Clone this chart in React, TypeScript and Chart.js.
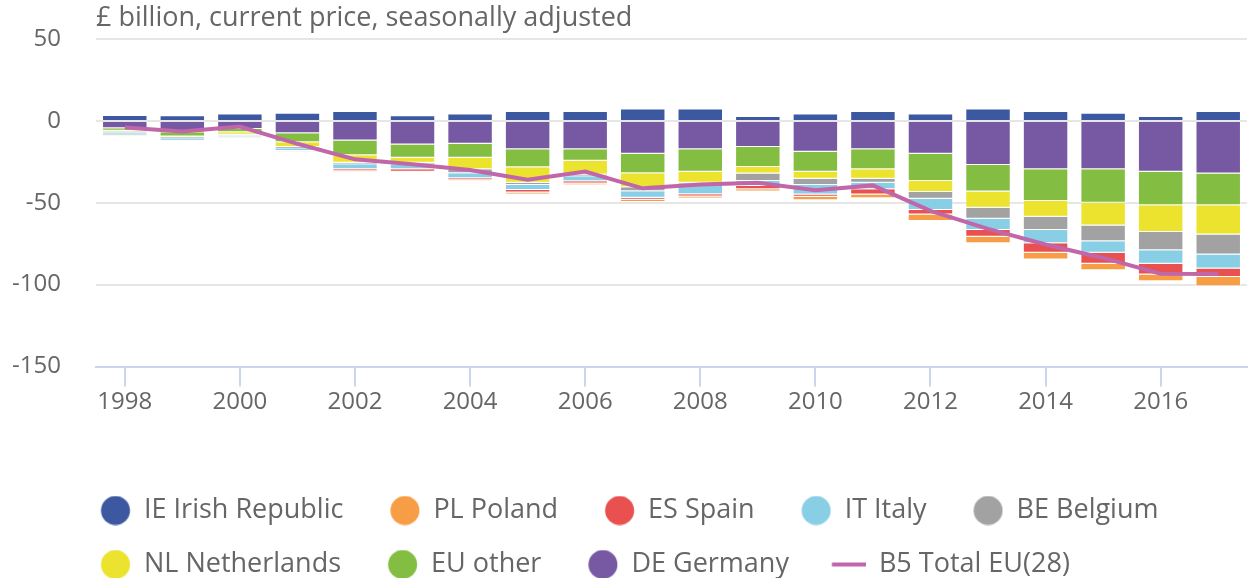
import React, { useEffect, useRef } from 'react';
import { Chart, registerables } from 'chart.js';

Chart.register(...registerables);

const unitLabel = '£ billion, current price, seasonally adjusted';

const years = ['1998', '1999', '2000', '2001', '2002', '2003', '2004', '2005', '2006', '2007',
  '2008', '2009', '2010', '2011', '2012', '2013', '2014', '2015', '2016', '2017'];

const ieIrishRepublic = [3, 3, 4, 4.5, 6, 3.5, 4.5, 6, 6, 7.5, 7.5, 3, 4.5, 6, 4.5, 7.5, 6, 5, 3, 6];
const plPoland = [-0.3, -0.2, -0.2, 0.5, -0.3, -0.3, -0.3, -1.2, -1, -1.4, -1.2, -1.4, -2.2, -2.4, -4.1, -4, -4, -3.9, -4.1, -5.7];
const esSpain = [0.6, 0.5, 0.5, -0.2, -1.3, -1.5, -1.2, -1.6, -1.4, -1.2, -1.4, -2, -1.4, -3.1, -2.6, -4.1, -5.8, -6.7, -6.5, -5.1];
const itItaly = [-1.5, -1.6, -1, -1.7, -3, -3, -3, -3, -3, -4, -6, -3, -5.7, -4, -6.9, -7, -8.1, -7.1, -8.3, -8.6];
const beBelgium = [-1, -0.8, -0.4, -0.7, -1, -1, -2.5, -1.4, -1, -2.4, -1, -4.5, -3.9, -2.5, -4.1, -6.7, -8.2, -9.6, -11.1, -12.2];
const nlNetherlands = [-0.4, -0.3, -1.5, -3, -4.5, -3, -7, -9.5, -8.5, -8.6, -6.8, -4, -4.3, -5.7, -6.8, -9.8, -9.5, -13.9, -16.3, -17.8];
const euOther = [-1.6, -2.5, -2, -5.5, -9, -8, -8.5, -11, -7, -12, -13.7, -12.3, -12.2, -12.3, -16.7, -16.3, -19.4, -20.4, -20.6, -19.4];
const deGermany = [-4.5, -7, -5, -7.5, -12, -14.5, -14, -17.3, -17.3, -20, -17.3, -15.9, -18.8, -17.3, -20, -26.9, -29.6, -29.6, -31, -32.2];
const totalEU28 = [-4, -6.5, -3.5, -14, -23.5, -26.5, -30, -36, -31, -41.2, -38.8, -37.8, -42.4, -39.4, -55, -66, -75.5, -83.7, -93.3, -93.5];

const yTicks = [-150, -100, -50, 0, 50];

const FONT = '"Open Sans", sans-serif';
const TEXT = '#666666';

function makeDot(color: string) {
  const c = document.createElement('canvas');
  c.width = 50;
  c.height = 30;
  const x = c.getContext('2d')!;
  x.fillStyle = color;
  x.beginPath();
  x.arc(34.75, 15, 14.5, 0, Math.PI * 2);
  x.fill();
  return c;
}

function makeDash(color: string) {
  const c = document.createElement('canvas');
  c.width = 50;
  c.height = 30;
  const x = c.getContext('2d')!;
  x.fillStyle = color;
  x.fillRect(16.25, 13, 33.75, 4);
  return c;
}

const titlePlugin = {
  id: 'unitTitle',
  afterLayout(chart: any) {
    if (chart.legend) chart.legend.left = 54;
  },
  afterDraw(chart: any) {
    const { ctx, chartArea } = chart;
    ctx.save();
    ctx.font = `27px ${FONT}`;
    ctx.fillStyle = TEXT;
    ctx.textBaseline = 'middle';
    ctx.textAlign = 'left';
    ctx.fillText(unitLabel, chartArea.left, 18);
    ctx.restore();
  },
};

export default function App() {
  const ref = useRef<HTMLCanvasElement>(null);

  useEffect(() => {
    if (!ref.current) return;
    const bar = (label: string, data: number[], color: string, order: number) => ({
      type: 'bar' as const,
      label,
      data,
      backgroundColor: color,
      borderColor: 'rgba(255,255,255,0.45)',
      borderWidth: 1,
      stack: 'countries',
      order,
      categoryPercentage: 1,
      barPercentage: 0.79,
    });
    const series = [
      bar('IE Irish Republic', ieIrishRepublic, '#3c58a1', 8),
      bar('PL Poland', plPoland, '#f79d45', 7),
      bar('ES Spain', esSpain, '#e8514f', 6),
      bar('IT Italy', itItaly, '#88cfe6', 5),
      bar('BE Belgium', beBelgium, '#a2a2a2', 4),
      bar('NL Netherlands', nlNetherlands, '#ebe32d', 3),
      bar('EU other', euOther, '#83bd42', 2),
      bar('DE Germany', deGermany, '#7759a3', 1),
    ];
    const lineColor = '#c066a9';
    const markers: HTMLCanvasElement[] = series.map((s) => makeDot(s.backgroundColor));
    markers.push(makeDash(lineColor));

    const chart = new Chart(ref.current, {
      type: 'bar',
      data: {
        labels: years,
        datasets: [
          ...series,
          {
            type: 'line' as const,
            label: 'B5 Total EU(28)',
            data: totalEU28,
            borderColor: lineColor,
            backgroundColor: lineColor,
            borderWidth: 4,
            pointRadius: 0,
            tension: 0,
            stack: 'total',
            order: 0,
          },
        ] as any,
      },
      options: {
        responsive: false,
        animation: false,
        devicePixelRatio: 1,
        layout: { padding: { left: 0, top: 39, right: 0, bottom: 0 } },
        plugins: {
          title: { display: false },
          tooltip: { enabled: false },
          legend: {
            position: 'bottom',
            align: 'start',
            labels: {
              usePointStyle: true,
              pointStyleWidth: 49.5,
              padding: 27,
              color: TEXT,
              font: { family: FONT, size: 27 },
              sort: (a: any, b: any) => a.datasetIndex - b.datasetIndex,
              generateLabels: (c: any) => {
                const items = Chart.defaults.plugins.legend.labels.generateLabels(c);
                return items.map((it: any) => ({ ...it, pointStyle: markers[it.datasetIndex] }));
              },
            },
          },
        },
        scales: {
          x: {
            stacked: true,
            afterFit: (s: any) => { s.height = 103.5; },
            grid: {
              offset: false,
              drawOnChartArea: false,
              color: '#ccd6eb',
              lineWidth: 2,
              tickLength: 20,
            },
            border: { color: '#ccd6eb', width: 2 },
            ticks: {
              autoSkip: false,
              maxRotation: 0,
              padding: 1,
              color: TEXT,
              font: { family: FONT, size: 24 },
              callback: function (this: any, value: any) {
                const lab = this.getLabelForValue(value);
                return Number(lab) % 2 === 0 ? lab : null;
              },
            },
          },
          y: {
            stacked: true,
            min: yTicks[0],
            max: yTicks[yTicks.length - 1],
            afterFit: (s: any) => { s.width = 96; s.paddingTop = 0; s.paddingBottom = 0; },
            afterBuildTicks: (s: any) => { s.ticks = yTicks.map((v) => ({ value: v })); },
            grid: { color: '#e6e6e6', lineWidth: 2, drawTicks: false },
            border: { display: false },
            ticks: {
              padding: 35,
              color: TEXT,
              font: { family: FONT, size: 24 },
            },
          },
        },
      },
      plugins: [titlePlugin],
    });

    (document as any).fonts?.load?.(`24px "Open Sans"`).then(() => chart.update()).catch(() => {});

    return () => chart.destroy();
  }, []);

  return (
    <div style={{ position: 'absolute', left: 0, top: 0, width: 1249, height: 578, overflow: 'hidden', background: '#fff' }}>
      <canvas ref={ref} width={1249} height={588} style={{ display: 'block' }} />
    </div>
  );
}
